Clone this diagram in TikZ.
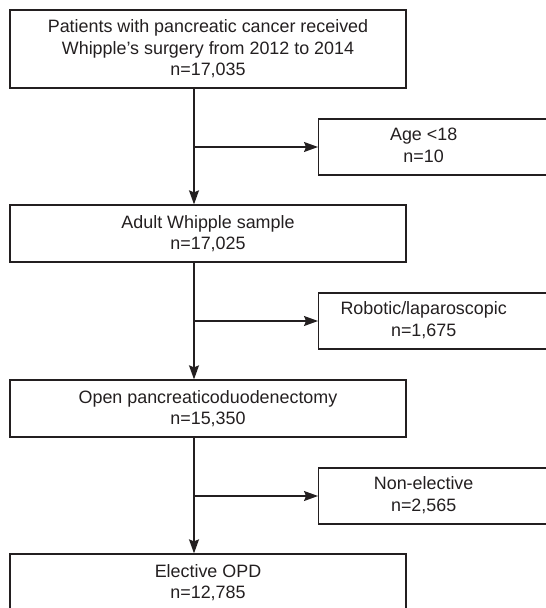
\documentclass[tikz,border=0pt]{standalone}
\usepackage{fontspec}
\setmainfont{Liberation Sans}
\usetikzlibrary{arrows.meta, positioning}

\definecolor{inkgray}{HTML}{231F20}

% side box text: a tabular with trailing space, so it sits left of the box centre
\newcommand{\sidetext}[1]{\begin{tabular}{@{}c@{}}#1\end{tabular}\hspace*{50pt}}

\begin{document}
\begin{tikzpicture}[
    x=1pt, y=-1pt,
    font=\fontsize{17.9}{21.5}\selectfont,
    box/.style={draw=inkgray, rectangle, align=center, minimum width=396pt, line width=1.3pt, text=inkgray, inner sep=0pt},
    side/.style={draw=inkgray, rectangle, anchor=west, minimum width=260pt, minimum height=56pt, line width=1.3pt, text=inkgray, inner sep=0pt},
    arrow/.style={-{Stealth[length=14pt, width=10pt, inset=2pt]}, line width=1.3pt, draw=inkgray, fill=inkgray}
]
\clip (0,0) rectangle (546,608);
\useasboundingbox (0,0) rectangle (546,608);

% Nodos
\node (all) [box, minimum height=78pt] at (208,49) {Patients with pancreatic cancer received\\Whipple’s surgery from 2012 to 2014\\n=17,035};
\node (adult) [box, minimum height=57pt] at (208,233.5) {Adult Whipple sample\\n=17,025};
\node (open) [box, minimum height=57pt] at (208,408.5) {Open pancreaticoduodenectomy\\n=15,350};
\node (elective) [box, minimum height=57pt] at (208,582.5) {Elective OPD\\n=12,785};

\node (age) [side] at (318,147) {\sidetext{Age <18\\n=10}};
\node (robot) [side] at (318,321) {\sidetext{Robotic/laparoscopic\\n=1,675}};
\node (nonel) [side] at (318,496) {\sidetext{Non-elective\\n=2,565}};

\coordinate (trunk) at (194,0);

% Flechas
\draw [arrow] (all.south -| trunk) -- (adult.north -| trunk);
\draw [arrow] (adult.south -| trunk) -- (open.north -| trunk);
\draw [arrow] (open.south -| trunk) -- (elective.north -| trunk);
\draw [arrow] (age.west -| trunk) -- (age.west);
\draw [arrow] (robot.west -| trunk) -- (robot.west);
\draw [arrow] (nonel.west -| trunk) -- (nonel.west);

\end{tikzpicture}
\end{document}
